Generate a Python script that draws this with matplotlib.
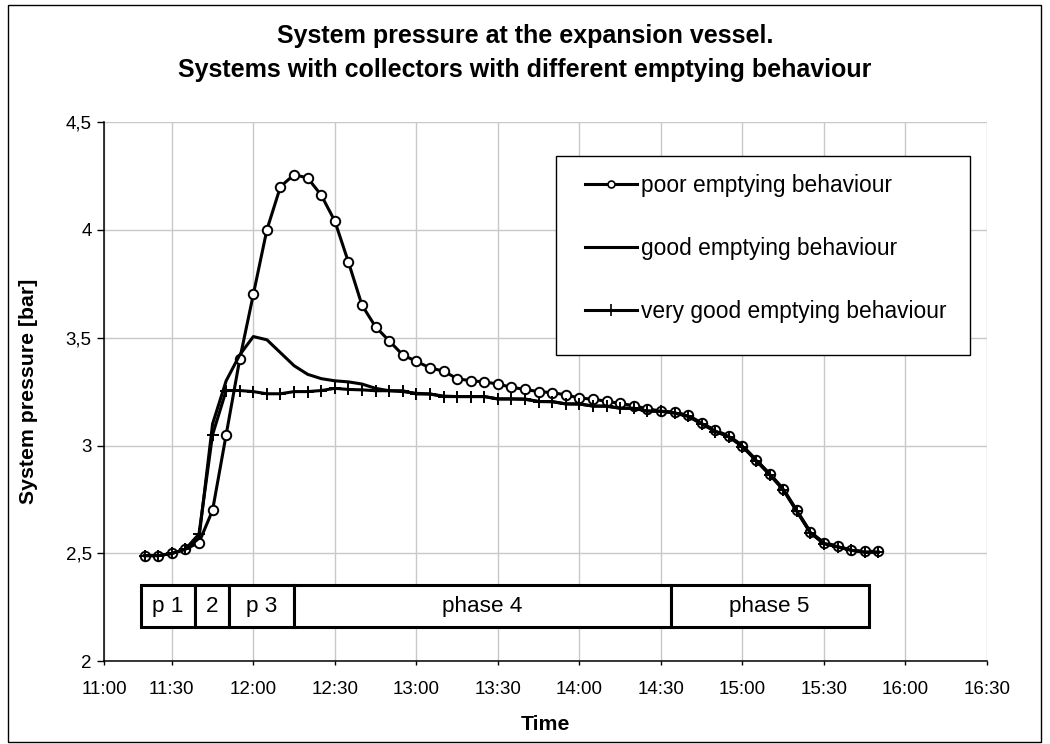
import matplotlib
matplotlib.use("Agg")
import matplotlib.pyplot as plt
from matplotlib.patches import Rectangle
from matplotlib.lines import Line2D

plt.rcParams['font.family'] = ['Liberation Sans', 'DejaVu Sans']

# ---------------- data ----------------
times = ["11:20", "11:25", "11:30", "11:35", "11:40", "11:45", "11:50", "11:55",
         "12:00", "12:05", "12:10", "12:15", "12:20", "12:25", "12:30", "12:35",
         "12:40", "12:45", "12:50", "12:55", "13:00", "13:05", "13:10", "13:15",
         "13:20", "13:25", "13:30", "13:35", "13:40", "13:45", "13:50", "13:55",
         "14:00", "14:05", "14:10", "14:15", "14:20", "14:25", "14:30", "14:35",
         "14:40", "14:45", "14:50", "14:55", "15:00", "15:05", "15:10", "15:15",
         "15:20", "15:25", "15:30", "15:35", "15:40", "15:45", "15:50"]

poor = [2.49, 2.49, 2.50, 2.52, 2.55, 2.70, 3.05, 3.40,
        3.70, 4.00, 4.20, 4.255, 4.24, 4.16, 4.04, 3.85,
        3.65, 3.55, 3.485, 3.42, 3.39, 3.36, 3.345, 3.31,
        3.30, 3.295, 3.285, 3.27, 3.26, 3.25, 3.245, 3.235,
        3.22, 3.215, 3.205, 3.195, 3.185, 3.17, 3.16, 3.155,
        3.14, 3.105, 3.07, 3.045, 3.00, 2.935, 2.87, 2.80,
        2.70, 2.60, 2.55, 2.535, 2.515, 2.51, 2.51]

good = [2.49, 2.49, 2.50, 2.52, 2.57, 3.10, 3.30, 3.42,
        3.505, 3.49, 3.43, 3.37, 3.33, 3.31, 3.30, 3.295,
        3.285, 3.265, 3.254, 3.25, 3.242, 3.239, 3.229, 3.227,
        3.227, 3.227, 3.216, 3.216, 3.214, 3.204, 3.203, 3.193,
        3.192, 3.183, 3.182, 3.173, 3.172, 3.16, 3.158, 3.152,
        3.137, 3.102, 3.067, 3.042, 2.997, 2.932, 2.867, 2.797,
        2.697, 2.597, 2.547, 2.532, 2.515, 2.507, 2.507]

very_good = [2.49, 2.49, 2.50, 2.52, 2.59, 3.05, 3.255, 3.255,
             3.25, 3.24, 3.24, 3.25, 3.25, 3.255, 3.265, 3.26,
             3.258, 3.254, 3.254, 3.254, 3.239, 3.239, 3.227, 3.227,
             3.227, 3.227, 3.216, 3.216, 3.216, 3.204, 3.204, 3.193,
             3.193, 3.183, 3.183, 3.173, 3.173, 3.16, 3.16, 3.15,
             3.135, 3.10, 3.065, 3.04, 2.995, 2.93, 2.865, 2.795,
             2.695, 2.595, 2.545, 2.53, 2.515, 2.505, 2.505]

series_labels = ["poor emptying behaviour", "good emptying behaviour",
                 "very good emptying behaviour"]

phase_labels = ["p 1", "2", "p 3", "phase 4", "phase 5"]
phase_bounds = ["11:18.5", "11:38.5", "11:51", "12:15", "14:33.7", "15:46.4"]

xtick_times = ["11:30", "12:00", "12:30", "13:00", "13:30", "14:00",
               "14:30", "15:00", "15:30", "16:00", "16:30"]
xtick_labels = ["11:00", "11:30", "12:00", "12:30", "13:00", "13:30", "14:00",
                "14:30", "15:00", "15:30", "16:00", "16:30"]
yticks = [2, 2.5, 3, 3.5, 4, 4.5]
ytick_labels = ["2", "2,5", "3", "3,5", "4", "4,5"]


def to_min(s):
    h, m = s.split(":")
    return (int(h) - 11) * 60 + float(m)


x = [to_min(t) for t in times]
xmin = 5.05
xmax = to_min("16:30")

# ---------------- figure ----------------
W, H = 1050, 744
fig = plt.figure(figsize=(W / 100, H / 100), dpi=100)
fig.patch.set_facecolor("white")
L, R, T, B = 104, 987, 121.8, 661.4
ax = fig.add_axes([L / W, 1 - B / H, (R - L) / W, (B - T) / H])

ax.set_xlim(xmin, xmax)
ax.set_ylim(2, 4.5)
ax.set_axisbelow(True)
ax.grid(True, color="#c8c8c8", lw=1.0)

for s in ["top", "right"]:
    ax.spines[s].set_visible(False)
for s in ["left", "bottom"]:
    ax.spines[s].set_linewidth(1.1)
    ax.spines[s].set_color("black")

ax.set_xticks([xmin] + [to_min(t) for t in xtick_times])
ax.set_xticklabels(xtick_labels)
ax.set_yticks(yticks)
ax.set_yticklabels(ytick_labels)
ax.tick_params(axis="x", labelsize=13.5, length=3.2, width=1, pad=11)
ax.tick_params(axis="y", labelsize=13.5, length=4.7, width=1, pad=4.2)

lw = 2.2
ax.plot(x, poor, color="black", lw=lw, marker="o", ms=6.8, mfc="white",
        mec="black", mew=1.4, zorder=3)
ax.plot(x, good, color="black", lw=lw, zorder=4)
ax.plot(x, very_good, color="black", lw=lw, marker="+", ms=9, mew=1.4, zorder=5)

# phase boxes
pb = [to_min(t) for t in phase_bounds]
y0, y1 = 2.16, 2.352
for i, lab in enumerate(phase_labels):
    rect = Rectangle((pb[i], y0), pb[i + 1] - pb[i], y1 - y0, fc="white",
                     ec="black", lw=2.2, zorder=6)
    ax.add_patch(rect)
    ax.text((pb[i] + pb[i + 1]) / 2, (y0 + y1) / 2, lab, ha="center",
            va="center", fontsize=16.2, zorder=7)

# legend frame
lx0, ly0, lx1, ly1 = 555.5, 156, 970, 355
ax.add_patch(Rectangle((lx0 / W, 1 - ly1 / H), (lx1 - lx0) / W, (ly1 - ly0) / H,
                       transform=fig.transFigure, fc="white", ec="black",
                       lw=1.0, zorder=8, clip_on=False))
handles = [
    Line2D([], [], color="black", lw=lw, marker="o", ms=5, mfc="white",
           mec="black", mew=1.2),
    Line2D([], [], color="black", lw=lw),
    Line2D([], [], color="black", lw=lw, marker="+", ms=8, mew=1.2),
]
leg = ax.legend(handles, series_labels, loc="upper left",
                bbox_to_anchor=(585 / W, 1 - 174 / H),
                bbox_transform=fig.transFigure, frameon=False,
                fontsize=16.4, handlelength=2.28, handletextpad=0.18,
                borderpad=0, borderaxespad=0, labelspacing=1.75, numpoints=1)
leg.set_zorder(9)

# titles and axis labels
fig.text(0.5, 1 - 36 / H, "System pressure at the expansion vessel.",
         ha="center", va="center", fontsize=18, fontweight="bold")
fig.text(0.5, 1 - 70 / H, "Systems with collectors with different emptying behaviour",
         ha="center", va="center", fontsize=18, fontweight="bold")
fig.text(29 / W, 1 - (T + B) / 2 / H, "System pressure [bar]", rotation=90,
         ha="center", va="center", fontsize=15.3, fontweight="bold")
fig.text((L + R) / 2 / W, 1 - 725 / H, "Time", ha="center", va="center",
         fontsize=15.3, fontweight="bold")

# outer chart border
fig.add_artist(Rectangle((7.5 / W, 1 - 742 / H), (1041 - 7.5) / W, (742 - 5) / H,
                         transform=fig.transFigure, fill=False, ec="black", lw=1.0))

fig.savefig("out.png", dpi=100)
